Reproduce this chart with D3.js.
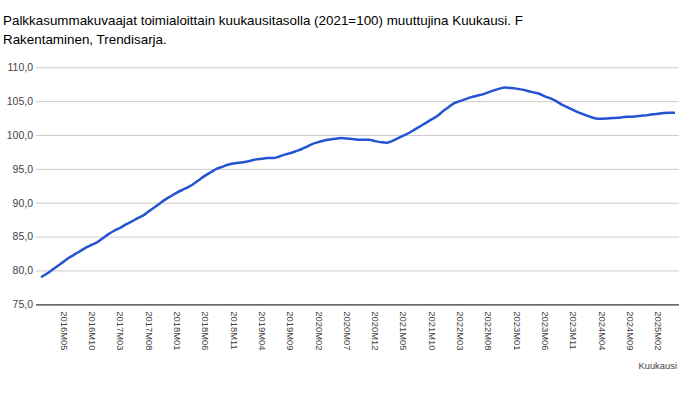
<!DOCTYPE html>
<html>
<head>
<meta charset="utf-8">
<script src="https://cdn.jsdelivr.net/npm/d3@7"></script>
<style>
  body { margin: 0; background: #fff; }
  text { font-family: "Liberation Sans", Arial, sans-serif; }
</style>
</head>
<body>
<script>
// title lines
var titleLines = [
  "Palkkasummakuvaajat toimialoittain kuukausitasolla (2021=100) muuttujina Kuukausi. F",
  "Rakentaminen, Trendisarja."
];

// months 2016M01 .. 2025M05
var months = [];
for (var yr = 2016; yr <= 2025; yr++) {
  for (var m = 1; m <= 12; m++) {
    if (yr === 2025 && m > 5) break;
    months.push(yr + "M" + (m < 10 ? "0" + m : m));
  }
}

// trend values
var values = [
  79.0, 79.5, 80.1, 80.7, 81.3, 81.9, 82.4, 82.9, 83.4, 83.8,
  84.2, 84.8, 85.4, 85.9, 86.3, 86.8, 87.2, 87.7, 88.1, 88.7,
  89.3, 89.9, 90.5, 91.0, 91.5, 91.9, 92.3, 92.8, 93.4, 94.0,
  94.5, 95.0, 95.3, 95.6, 95.8, 95.9, 96.0, 96.2, 96.4, 96.5,
  96.6, 96.6, 96.8, 97.1, 97.3, 97.6, 97.9, 98.3, 98.7, 98.95,
  99.2, 99.35, 99.45, 99.55, 99.5, 99.4, 99.3, 99.3, 99.3, 99.1,
  98.95, 98.85, 99.1, 99.5, 99.9, 100.3, 100.8, 101.3, 101.8, 102.3,
  102.8, 103.5, 104.1, 104.7, 105.0, 105.3, 105.6, 105.8, 106.0, 106.3,
  106.6, 106.85, 107.0, 106.95, 106.85, 106.7, 106.5, 106.3, 106.1, 105.7,
  105.4, 105.0, 104.5, 104.1, 103.7, 103.3, 103.0, 102.7, 102.45, 102.4,
  102.45, 102.5, 102.55, 102.65, 102.7, 102.75, 102.85, 102.9, 103.05, 103.15,
  103.25, 103.3, 103.3
];

var yTicks = [75, 80, 85, 90, 95, 100, 105, 110];
var xTickLabels = months.filter(function(d, i) { return i % 5 === 4; });
var xTitle = "Kuukausi";

var w = 680, h = 393;
var plotLeft = 36, plotRight = 679, plotTop = 67.3, plotBottom = 304.3;

var svg = d3.select("body").append("svg")
  .attr("width", w)
  .attr("height", h);

svg.selectAll("text.title")
  .data(titleLines)
  .enter()
  .append("text")
  .attr("class", "title")
  .attr("x", 3)
  .attr("y", function(d, i) { return 25 + i * 19; })
  .attr("font-size", "13.4px")
  .attr("fill", "#000")
  .text(function(d) { return d; });

var x = d3.scalePoint()
  .domain(months)
  .range([41, 675]);

var yScale = d3.scaleLinear()
  .domain([75, 110])
  .range([plotBottom, plotTop]);

var fmt = function(d) { return d3.format(".1f")(d).replace(".", ","); };

// gridlines + y labels
var yAxis = d3.axisLeft(yScale)
  .tickValues(yTicks)
  .tickSize(-(plotRight - plotLeft))
  .tickPadding(3)
  .tickFormat(fmt);

var gy = svg.append("g")
  .attr("transform", "translate(" + plotLeft + ",0)")
  .call(yAxis);
gy.select(".domain").remove();
gy.selectAll(".tick line")
  .attr("stroke", function(d) { return d === 75 ? "#333" : "#ccc"; })
  .attr("stroke-width", function(d) { return d === 75 ? 1.3 : 1; });
gy.selectAll(".tick text")
  .attr("font-family", "Liberation Sans, Arial, sans-serif")
  .attr("font-size", "10.5px")
  .attr("fill", "#444");

// x labels, rotated
var xAxis = d3.axisBottom(x)
  .tickValues(xTickLabels)
  .tickSize(0);

var gx = svg.append("g")
  .attr("transform", "translate(0," + plotBottom + ")")
  .call(xAxis);
gx.select(".domain").remove();
gx.selectAll(".tick text")
  .attr("font-family", "Liberation Sans, Arial, sans-serif")
  .attr("font-size", "9.4px")
  .attr("fill", "#444")
  .attr("text-anchor", "start")
  .attr("transform", "rotate(90)")
  .attr("x", 7)
  .attr("y", 0)
  .attr("dy", "0.35em");

svg.append("text")
  .attr("x", 677)
  .attr("y", 369)
  .attr("text-anchor", "end")
  .attr("font-size", "9.4px")
  .attr("fill", "#444")
  .text(xTitle);

var line = d3.line()
  .x(function(d, i) { return x(months[i]); })
  .y(function(d) { return yScale(d); })
  .curve(d3.curveMonotoneX);

svg.append("path")
  .datum(values)
  .attr("d", line)
  .attr("fill", "none")
  .attr("stroke", "#2454d2")
  .attr("stroke-width", 2.5)
  .attr("stroke-linejoin", "round");
</script>
</body>
</html>
